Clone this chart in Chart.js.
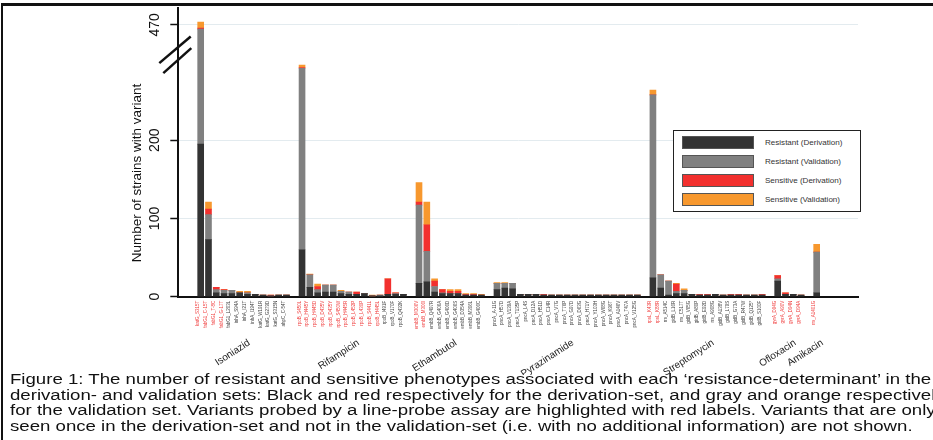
<!DOCTYPE html>
<html>
<head>
<meta charset="utf-8">
<script src="https://cdn.jsdelivr.net/npm/chart.js@4.4.1/dist/chart.umd.min.js"></script>
<style>
  html, body { margin: 0; padding: 0; background: #fff; }
  #page { position: relative; width: 933px; height: 440px; overflow: hidden; font-family: "Liberation Sans", Arial, sans-serif; }
  #frame { position: absolute; left: 1px; top: 3px; right: -5px; bottom: -5px; border-top: 3px solid #111; border-left: 2px solid #111; }
  #wrap { position: absolute; left: 0; top: 0; width: 933px; height: 375px; }
  #legend { position: absolute; left: 673px; top: 130px; width: 188px; height: 82px; border: 1px solid #222; box-sizing: border-box; background: #fff; }
  .row { position: absolute; left: 8px; height: 13px; }
  .sw { position: absolute; left: 0; top: 0; width: 72px; height: 13px; border: 1px solid #555; box-sizing: border-box; }
  .lbl { position: absolute; left: 83px; top: 3px; font-size: 7px; color: #333; white-space: nowrap; transform: scaleX(1.15); transform-origin: left center; }
  #caption { position: absolute; left: 10px; top: 372px; font-size: 14px; line-height: 15.7px; color: #111; white-space: nowrap; transform: scaleX(1.33); transform-origin: left top; }
</style>
</head>
<body>
<div id="page">
  <div id="wrap"><canvas id="chart" width="933" height="375"></canvas></div>
  <div id="legend"></div>
  <div id="caption">
    Figure 1: The number of resistant and sensitive phenotypes associated with each ‘resistance-determinant’ in the<br>
    derivation- and validation sets: Black and red respectively for the derivation-set, and gray and orange respectively<br>
    for the validation set. Variants probed by a line-probe assay are highlighted with red labels. Variants that are only<br>
    seen once in the derivation-set and not in the validation-set (i.e. with no additional information) are not shown.
  </div>
  <div id="frame"></div>
</div>
<script>
// drugs and how many variants each one has
const groups = ['Isoniazid', 'Rifampicin', 'Ethambutol', 'Pyrazinamide', 'Streptomycin', 'Ofloxacin', 'Amikacin'];
const groupSizes = [12, 14, 9, 19, 15, 4, 1];

const variants = [
  'katG_S315T', 'fabG1_C-15T', 'fabG1_T-8C', 'fabG1_G-17T', 'fabG1_L203L', 'inhA_S94A', 'inhA_I21T', 'inhA_I194T', 'katG_W191R', 'katG_G279D', 'katG_S315N', 'ahpC_C-54T',
  'rpoB_S450L', 'rpoB_H445Y', 'rpoB_H445D', 'rpoB_D435V', 'rpoB_D435Y', 'rpoB_S450W', 'rpoB_H445R', 'rpoB_L452P', 'rpoB_L430P', 'rpoB_S441L', 'rpoB_H445L', 'rpoB_I491F', 'rpoB_V170F', 'rpoB_Q432K',
  'embB_M306V', 'embB_M306I', 'embB_Q497R', 'embB_G406A', 'embB_G406D', 'embB_G406S', 'embB_D354A', 'embB_M306L', 'embB_G406C',
  'pncA_A-11G', 'pncA_H57D', 'pncA_V139A', 'pncA_T135P', 'pncA_L4S', 'pncA_D12A', 'pncA_H51D', 'pncA_C14R', 'pncA_V7G', 'pncA_T76P', 'pncA_G97D', 'pncA_D63G', 'pncA_H71Y', 'pncA_Y103H', 'pncA_W68G', 'pncA_K96T', 'pncA_A146V', 'pncA_T47A', 'pncA_V125G',
  'rpsL_K43R', 'rpsL_K88R', 'rrs_A514C', 'gidB_L16R', 'rrs_C517T', 'gidB_V65G', 'gidB_A80P', 'gidB_E92D', 'rrs_A908G', 'gidB_A138V', 'gidB_L79S', 'gidB_G73A', 'gidB_R47W', 'gidB_Q125*', 'gidB_S100F',
  'gyrA_D94G', 'gyrA_A90V', 'gyrA_D94N', 'gyrA_D94A',
  'rrs_A1401G'
];

// variants covered by the line-probe assay (red labels)
const lpaProbed = [
  'katG_S315T', 'fabG1_C-15T', 'fabG1_T-8C', 'fabG1_G-17T',
  'rpoB_S450L', 'rpoB_H445Y', 'rpoB_H445D', 'rpoB_D435V', 'rpoB_D435Y', 'rpoB_S450W', 'rpoB_H445R', 'rpoB_L452P', 'rpoB_L430P', 'rpoB_S441L', 'rpoB_H445L',
  'embB_M306V', 'embB_M306I',
  'rpsL_K43R', 'rpsL_K88R',
  'gyrA_D94G', 'gyrA_A90V', 'gyrA_D94N', 'gyrA_D94A',
  'rrs_A1401G'
];

const resDeriv = [
  195, 73, 5, 4, 4, 5, 3, 3, 2, 1, 2, 2,
  60, 12, 5, 6, 6, 4, 3, 3, 4, 1, 1, 3, 3, 3,
  17, 19, 6, 4, 4, 4, 2, 2, 2,
  9, 11, 10, 3, 3, 3, 2, 2, 2, 2, 2, 2, 2, 2, 2, 2, 2, 2, 2,
  24, 11, 2, 4, 4, 3, 2, 2, 3, 2, 2, 2, 2, 2, 2,
  20, 3, 3, 2,
  5
];
const resValid = [
  252, 32, 4, 4, 4, 0, 2, 0, 0, 0, 0, 0,
  232, 16, 4, 9, 9, 3, 3, 0, 0, 0, 1, 0, 1, 0,
  100, 39, 7, 1, 0, 0, 0, 0, 0,
  8, 6, 7, 0, 0, 0, 0, 0, 0, 0, 0, 0, 0, 0, 0, 0, 0, 0, 0,
  234, 17, 18, 3, 4, 0, 0, 0, 0, 0, 0, 0, 0, 0, 0,
  3, 0, 0, 0,
  52
];
const sensDeriv = [
  6, 7, 3, 1, 0, 0, 0, 0, 0, 1, 0, 0,
  1, 0, 4, 0, 0, 0, 0, 3, 0, 0, 0, 20, 1, 0,
  4, 34, 7, 4, 3, 3, 1, 1, 0,
  0, 0, 0, 0, 0, 0, 1, 0, 0, 0, 0, 0, 0, 0, 0, 0, 0, 0, 0,
  0, 0, 0, 9, 0, 0, 1, 1, 0, 0, 1, 1, 0, 0, 1,
  4, 2, 0, 0,
  0
];
const sensValid = [
  32, 9, 0, 0, 0, 2, 2, 0, 0, 0, 0, 0,
  3, 1, 3, 0, 0, 1, 0, 0, 0, 1, 0, 0, 0, 0,
  25, 29, 3, 0, 2, 2, 1, 1, 1,
  1, 1, 0, 0, 0, 0, 0, 0, 0, 0, 0, 0, 0, 0, 0, 0, 0, 0, 0,
  6, 0, 0, 1, 2, 0, 0, 0, 0, 0, 0, 0, 0, 0, 0,
  0, 0, 0, 0,
  10
];

const seriesNames = ['Resistant (Derivation)', 'Resistant (Validation)', 'Sensitive (Derivation)', 'Sensitive (Validation)'];
const seriesColors = ['#333333', '#808080', '#f2302e', '#f7982e'];

const yTicks = [0, 100, 200, 470];
// broken y axis: counts above the break are squeezed
const axisBreak = 310;
const breakScale = 0.234;

function brk(v) {
  return v <= axisBreak ? v : axisBreak + (v - axisBreak) * breakScale;
}

// one slot per variant, with an empty slot between drugs
const slots = [];
const groupCentres = [];
let pos = 0;
groupSizes.forEach(n => {
  const first = pos;
  for (let i = 0; i < n; i++) slots.push(pos++);
  groupCentres.push((first + pos - 1) / 2);
  pos++;
});

const series = [resDeriv, resValid, sensDeriv, sensValid];
function segments(k) {
  return variants.map((_, i) => {
    let below = 0;
    for (let j = 0; j < k; j++) below += series[j][i];
    const top = below + series[k][i];
    return { x: slots[i], y: brk(top) - brk(below) };
  });
}

const xMin = -2.87, xMax = 84.3;

// axis break "//" and the drug names under the variant labels
const extras = {
  id: 'extras',
  afterDraw(chart) {
    const { ctx } = chart;
    const x = chart.scales.x, y = chart.scales.y;
    const x0 = y.right;
    const y0 = y.getPixelForValue(brk(axisBreak));
    ctx.save();
    ctx.strokeStyle = '#111';
    ctx.lineWidth = 2.5;
    [[-19, 9, 12.4, -17.6], [-15, 19, 13, -6]].forEach(([a, b, c, d]) => {
      ctx.beginPath();
      ctx.moveTo(x0 + a, y0 + b);
      ctx.lineTo(x0 + c, y0 + d);
      ctx.stroke();
    });
    ctx.fillStyle = '#222';
    ctx.font = '10px "Liberation Sans"';
    ctx.textAlign = 'right';
    ctx.textBaseline = 'top';
    groups.forEach((g, i) => {
      ctx.save();
      ctx.translate(x.getPixelForValue(groupCentres[i]) + 3, x.bottom + 3);
      ctx.rotate(-33 * Math.PI / 180);
      ctx.fillText(g, 0, 0);
      ctx.restore();
    });
    ctx.restore();
  }
};

const chart = new Chart(document.getElementById('chart'), {
  type: 'bar',
  data: {
    datasets: series.map((s, k) => ({
      label: seriesNames[k],
      data: segments(k),
      backgroundColor: seriesColors[k],
      borderWidth: 0,
      barThickness: 6
    }))
  },
  options: {
    responsive: false,
    animation: false,
    layout: { padding: { left: 125, right: 75, top: 8, bottom: 40.3 } },
    plugins: { legend: { display: false }, tooltip: { enabled: false } },
    scales: {
      x: {
        type: 'linear', stacked: true, offset: false, min: xMin, max: xMax, bounds: 'data', position: 'bottom',
        grid: { display: false, drawTicks: false, offset: false },
        border: { display: true, color: '#111', width: 2 },
        afterBuildTicks: s => { s.ticks = slots.map(v => ({ value: v })); },
        afterFit: s => { s.height = 38; s.paddingLeft = 0; s.paddingRight = 0; },
        ticks: {
          autoSkip: false, minRotation: 90, maxRotation: 90, padding: 4, labelOffset: -2.7,
          font: { family: 'Liberation Sans', size: 4.5 },
          color: ctx => lpaProbed.includes(variants[ctx.index]) ? '#f03c3c' : '#444',
          callback: (v, i) => variants[i]
        }
      },
      y: {
        stacked: true, min: 0, max: 369,
        border: { display: true, color: '#111', width: 2 },
        grid: { color: '#e3ebef', lineWidth: 1, tickColor: '#111', tickLength: 8, tickWidth: 1.5 },
        afterBuildTicks: s => { s.ticks = yTicks.map(v => ({ value: brk(v) })); },
        afterFit: s => { s.width = 53.3; s.paddingTop = 0; s.paddingBottom = 0; },
        ticks: {
          minRotation: 90, maxRotation: 90, crossAlign: 'center', padding: 3,
          font: { family: 'Liberation Sans', size: 14 }, color: '#111',
          callback: (v, i) => yTicks[i]
        },
        title: {
          display: true,
          text: 'Number of strains with variant           ',
          font: { family: 'Liberation Sans', size: 13.5 }, color: '#111',
          padding: { top: 4, bottom: 4 }
        }
      }
    }
  },
  plugins: [extras]
});

// legend box, built from the datasets
const legend = document.getElementById('legend');
const rowTops = [5, 24, 43, 62];
chart.data.datasets.forEach((ds, k) => {
  const row = document.createElement('div');
  row.className = 'row';
  row.style.top = rowTops[k] + 'px';
  row.innerHTML = '<div class="sw" style="background:' + ds.backgroundColor + '"></div><div class="lbl">' + ds.label + '</div>';
  legend.appendChild(row);
});
</script>
</body>
</html>
